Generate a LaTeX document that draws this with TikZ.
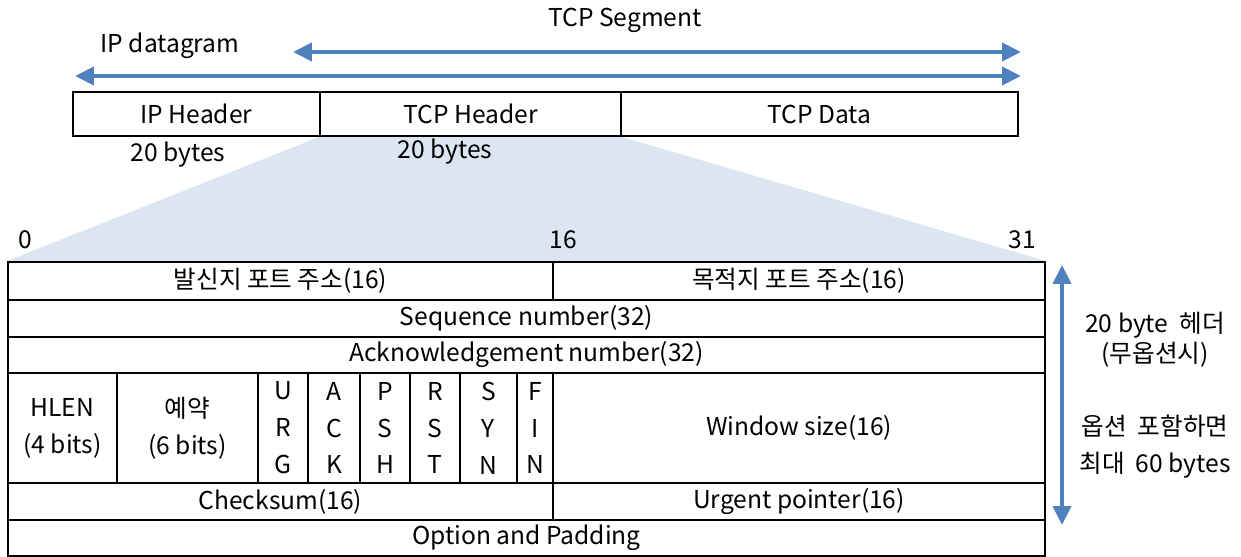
\documentclass[tikz,border=0pt]{standalone}
\usepackage{fontspec}
\setmainfont{Noto Sans CJK KR}
\usetikzlibrary{arrows.meta,backgrounds}
\definecolor{arrowblue}{HTML}{4F81BD}
\definecolor{zoomblue}{HTML}{DCE6F2}
\tikzset{
  field/.style={draw,line width=1.1pt,inner sep=0pt,align=center},
  span/.style={arrowblue,line width=2.3pt,{Triangle[length=0.38cm,width=0.36cm]}-{Triangle[length=0.38cm,width=0.36cm]}},
  lbl/.style={inner sep=0pt,align=center}
}
\begin{document}
\begin{tikzpicture}[x=0.02cm,y=-0.02cm,every node/.style={font=\fontsize{14}{21}\selectfont}]
\useasboundingbox (0,0) rectangle (1241,557);
% packet
\node[field,minimum width=4.94cm,minimum height=0.88cm] (iphdr) at (196.5,114) {IP Header};
\node[field,minimum width=6.02cm,minimum height=0.88cm] (tcphdr) at (470.5,114) {TCP Header};
\node[field,minimum width=7.94cm,minimum height=0.88cm] (tcpdata) at (819.5,114) {TCP Data};
\node[lbl] (seglbl) at (625,20) {TCP Segment};
\node[lbl] (dgmlbl) at (170,46) {IP datagram};
\node[lbl] (iplen) at (178,155) {20 bytes};
\node[lbl] (tcplen) at (445,152) {20 bytes};
\coordinate (segL) at (293,52);
\coordinate (segR) at (1021,52);
\coordinate (dgmL) at (75,76);
\coordinate (dgmR) at (1021,76);
\draw[span] (segL) -- (segR);
\draw[span] (dgmL) -- (dgmR);
% header
\node[lbl] (b0) at (25,240) {0};
\node[lbl] (b16) at (563,240) {16};
\node[lbl] (b31) at (1022,240) {31};
\node[field,minimum width=10.9cm,minimum height=0.76cm] (src) at (280.5,281) {발신지 포트 주소(16)};
\node[field,minimum width=9.84cm,minimum height=0.76cm] (dst) at (799,281) {목적지 포트 주소(16)};
\node[field,minimum width=20.74cm,minimum height=0.74cm] (seq) at (526.5,318.5) {Sequence number(32)};
\node[field,minimum width=20.74cm,minimum height=0.72cm] (ack) at (526.5,355) {Acknowledgement number(32)};
\node[field,minimum width=2.18cm,minimum height=2.2cm] (hlen) at (62.5,428) {HLEN\\(4 bits)};
\node[field,minimum width=2.82cm,minimum height=2.2cm] (rsv) at (187.5,428) {예약\\(6 bits)};
\node[field,minimum width=1.0cm,minimum height=2.2cm] (urg) at (283,428) {U\\R\\G};
\node[field,minimum width=1.04cm,minimum height=2.2cm] (ackf) at (334,428) {A\\C\\K};
\node[field,minimum width=1.0cm,minimum height=2.2cm] (psh) at (385,428) {P\\S\\H};
\node[field,minimum width=1.0cm,minimum height=2.2cm] (rst) at (435,428) {R\\S\\T};
\node[field,minimum width=1.14cm,minimum height=2.2cm] (syn) at (488.5,428) {S\\Y\\N};
\node[field,minimum width=0.72cm,minimum height=2.2cm] (fin) at (535,428) {F\\I\\N};
\node[field,minimum width=9.84cm,minimum height=2.2cm] (win) at (799,428) {Window size(16)};
\node[field,minimum width=10.9cm,minimum height=0.74cm] (chk) at (280.5,501.5) {Checksum(16)};
\node[field,minimum width=9.84cm,minimum height=0.74cm] (urgp) at (799,501.5) {Urgent pointer(16)};
\node[field,minimum width=20.74cm,minimum height=0.72cm] (opt) at (526.5,538) {Option and Padding};
\begin{scope}[on background layer]
\fill[zoomblue] (tcphdr.south west) -- (tcphdr.south east) -- (dst.north east) -- (src.north west) -- cycle;
\end{scope}
% length note
\coordinate (hdrT) at (1062,265);
\coordinate (hdrB) at (1062,525);
\draw[span] (hdrT) -- (hdrB);
\node[lbl,font=\fontsize{14}{17}\selectfont] (nopt) at (1155,340) {20 byte\ \ 헤더\\(무옵션시)};
\node[lbl,font=\fontsize{14}{21}\selectfont] (wopt) at (1155,446.5) {옵션\ \ 포함하면\\최대\ \ 60 bytes};
\end{tikzpicture}
\end{document}
